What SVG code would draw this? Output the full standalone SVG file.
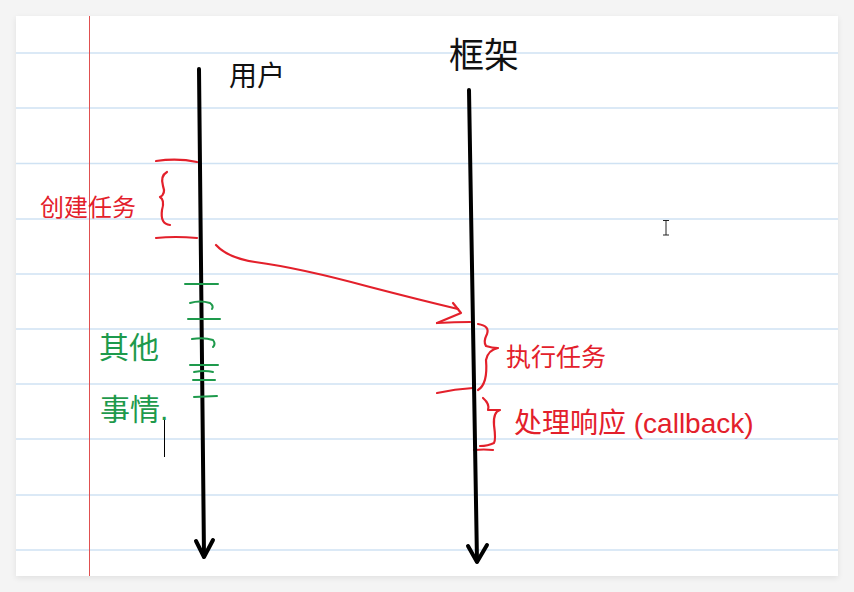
<svg xmlns="http://www.w3.org/2000/svg" width="854" height="592" viewBox="0 0 854 592">
<defs>
<filter id="sh" x="-5%" y="-5%" width="110%" height="110%"><feGaussianBlur stdDeviation="3"/></filter>
</defs>
<style>
.rule{stroke:#cfe2f3;stroke-width:1.5}
.life{stroke:#000;stroke-width:4;fill:none;stroke-linecap:round;stroke-linejoin:round}
.red{stroke:#e3202b;stroke-width:2.2;fill:none;stroke-linecap:round;stroke-linejoin:round}
.grn{stroke:#1e9a4c;stroke-width:2;fill:none;stroke-linecap:round}
.t{font-family:"Liberation Sans","Noto Sans CJK SC",sans-serif}
.tb{fill:#111}
.tr{fill:#e3202b}
.tg{fill:#1e9a4c}
</style>
<rect width="854" height="592" fill="#f4f4f4"/>
<rect x="16" y="18" width="822" height="560" fill="#000" opacity="0.08" filter="url(#sh)"/>
<rect x="16" y="16" width="822" height="560" fill="#fff"/>
<g id="paper">
<line class="rule" x1="16" y1="53" x2="838" y2="53"/>
<line class="rule" x1="16" y1="108" x2="838" y2="108"/>
<line class="rule" x1="16" y1="163.5" x2="838" y2="163.5"/>
<line class="rule" x1="16" y1="219" x2="838" y2="219"/>
<line class="rule" x1="16" y1="274" x2="838" y2="274"/>
<line class="rule" x1="16" y1="329" x2="838" y2="329"/>
<line class="rule" x1="16" y1="384" x2="838" y2="384"/>
<line class="rule" x1="16" y1="439" x2="838" y2="439"/>
<line class="rule" x1="16" y1="495" x2="838" y2="495"/>
<line class="rule" x1="16" y1="550" x2="838" y2="550"/>
<line x1="89.5" y1="16" x2="89.5" y2="576" stroke="#e05050" stroke-width="1"/>
</g>
<g id="user">
<text class="t tb" x="229" y="86" font-size="28">用户</text>
</g>
<g id="framework">
<text class="t tb" x="449" y="68" font-size="35">框架</text>
</g>
<g id="create-task">
<path class="red" d="M156 161 Q178 158 197 162" stroke-width="4"/>
<path class="red" d="M156 238 Q175 236 197 238"/>
<path class="red" d="M167 172 Q160 176 163 186 Q166 194 160 197 Q165 200 162 210 Q160 224 170 225"/>
<text class="t tr" x="40" y="216" font-size="24">创建任务</text>
</g>
<g id="other-things">
<text class="t tg" x="99" y="358" font-size="30">其他</text>
<text class="t tg" x="100" y="420" font-size="30">事情.</text>
</g>
<g id="execute-task">
<path class="red" d="M437 323 Q455 322 470 322"/>
<path class="red" d="M478 324 Q490 326 487 334 Q483 342 486 346 Q492 348 498 348 Q488 350 486 360 Q488 384 478 390"/>
<path class="red" d="M437 393 Q455 389 473 388"/>
<text class="t tr" x="506" y="366" font-size="25">执行任务</text>
</g>
<g id="handle-response">
<path class="red" d="M483 398 Q490 404 488 410 Q494 410 500 410 Q493 412 494 425 Q496 440 494 443 Q488 446 480 446"/>
<path class="red" d="M474 450 Q484 449 493 450"/>
<text class="t tr" x="514" y="433" font-size="28">处理响应 (callback)</text>
</g>
<g id="connectors">
<path class="life" d="M199 69 L204 556"/>
<path class="life" d="M196 541 L204 557 L213 540"/>
<path class="life" d="M469 90 L477 561"/>
<path class="life" d="M468 546 L477 562 L487 545"/>
<path class="red" d="M216 245 Q228 258 255 262 Q300 268 370 287 Q420 300 458 309"/>
<path class="red" d="M453 303 L461 313 L437 323"/>
<path class="grn" d="M185 284 L218 284"/>
<path class="grn" d="M190 303 Q200 300 210 303 Q214 306 212 309"/>
<path class="grn" d="M188 319 L220 319"/>
<path class="grn" d="M192 339 Q204 337 213 340 Q216 344 213 347"/>
<path class="grn" d="M190 365 L218 365"/>
<path class="grn" d="M194 372 Q205 370 213 372"/>
<path class="grn" d="M193 380 L215 380"/>
<path class="grn" d="M194 397 L217 396"/>
<line x1="164.5" y1="420" x2="164.5" y2="457" stroke="#000" stroke-width="1"/>
<path d="M663 220.5 H669 M666 220.5 V235 M663 235 H669" stroke="#222" stroke-width="1" fill="none"/>
</g>
</svg>
